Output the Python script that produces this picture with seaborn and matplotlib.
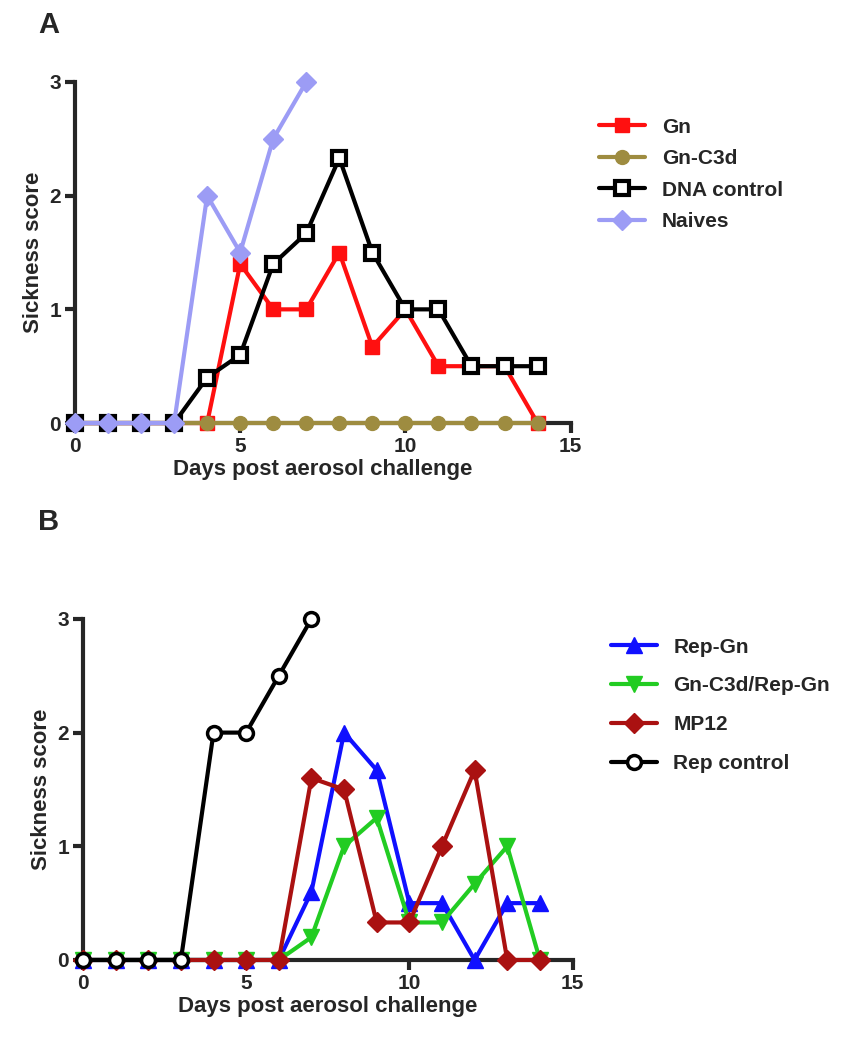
import numpy as np
import pandas as pd
import seaborn as sns
import matplotlib.pyplot as plt

# panel A
days_a = list(range(15))
gn = [0, 0, 0, 0, 0, 1.4, 1, 1, 1.5, 0.67, 1, 0.5, 0.5, 0.5, 0]
gn_c3d = [0] * 15
dna_control = [0, 0, 0, 0, 0.4, 0.6, 1.4, 1.67, 2.33, 1.5, 1, 1, 0.5, 0.5, 0.5]
naives_days = list(range(8))
naives = [0, 0, 0, 0, 2, 1.5, 2.5, 3]

# panel B
days_b = list(range(15))
rep_gn = [0, 0, 0, 0, 0, 0, 0, 0.6, 2.0, 1.67, 0.5, 0.5, 0, 0.5, 0.5]
gn_c3d_rep_gn = [0, 0, 0, 0, 0, 0, 0, 0.2, 1.0, 1.25, 0.33, 0.33, 0.67, 1.0, 0]
mp12 = [0, 0, 0, 0, 0, 0, 0, 1.6, 1.5, 0.33, 0.33, 1.0, 1.67, 0, 0]
rep_control_days = list(range(8))
rep_control = [0, 0, 0, 0, 2, 2, 2.5, 3]

sns.set_style("ticks")
plt.rcParams['font.family'] = ['Liberation Sans', 'DejaVu Sans']
plt.rcParams['font.weight'] = 'bold'

fig = plt.figure(figsize=(8.68, 10.43), dpi=100)
ax_a = fig.add_axes([0.0864, 0.5944, 0.571, 0.327])
ax_b = fig.add_axes([0.0956, 0.0796, 0.564, 0.327])

series_a = [
    ("Gn", days_a, gn, dict(color="#FF1010", marker="s", ms=10, mec="#FF1010")),
    ("Gn-C3d", days_a, gn_c3d, dict(color="#9E8C40", marker="o", ms=10, mec="#9E8C40")),
    ("DNA control", days_a, dna_control, dict(color="black", marker="s", ms=10, mfc="white", mec="black", mew=3)),
    ("Naives", naives_days, naives, dict(color="#9C9CF5", marker="D", ms=10, mec="#9C9CF5")),
]
series_b = [
    ("Rep-Gn", days_b, rep_gn, dict(color="#1010FF", marker="^", ms=11, mec="#1010FF")),
    ("Gn-C3d/Rep-Gn", days_b, gn_c3d_rep_gn, dict(color="#22CC22", marker="v", ms=11, mec="#22CC22")),
    ("MP12", days_b, mp12, dict(color="#AA1111", marker="D", ms=10, mec="#AA1111")),
    ("Rep control", rep_control_days, rep_control, dict(color="black", marker="o", ms=10, mfc="white", mec="black", mew=2.5)),
]

for ax, series in [(ax_a, series_a), (ax_b, series_b)]:
    for name, x, y, kw in series:
        df = pd.DataFrame({"day": x, "score": y})
        sns.lineplot(data=df, x="day", y="score", ax=ax, label=name, lw=3,
                     color=kw["color"], marker=kw["marker"], markersize=kw["ms"],
                     markerfacecolor=kw.get("mfc", kw["color"]), markeredgecolor=kw["mec"],
                     markeredgewidth=kw.get("mew", 1), clip_on=False, zorder=3)
    ax.set_xlim(0, 15)
    ax.set_ylim(0, 3)
    ax.set_xticks([0, 5, 10, 15])
    ax.set_yticks([0, 1, 2, 3])
    ax.tick_params(labelsize=15, width=3, length=7, pad=3, direction="out")
    for lab in ax.get_xticklabels() + ax.get_yticklabels():
        lab.set_fontweight("bold")
    sns.despine(ax=ax)
    for s in ["left", "bottom"]:
        ax.spines[s].set_linewidth(3)
    ax.set_xlabel("Days post aerosol challenge", fontsize=16, fontweight="bold", labelpad=2)
    ax.set_ylabel("Sickness score", fontsize=16, fontweight="bold", labelpad=4)

ax_a.legend(loc="upper left", bbox_to_anchor=(1.02, 0.95), frameon=False,
            prop=dict(size=15, weight="bold"), handlelength=2.2, labelspacing=0.6)
ax_b.legend(loc="upper left", bbox_to_anchor=(1.04, 1.0), frameon=False,
            prop=dict(size=15, weight="bold"), handlelength=2.2, labelspacing=0.95)

fig.text(38 / 868, 1 - 25 / 1043, "A", fontsize=21, fontweight="bold", va="center")
fig.text(38 / 868, 1 - 522 / 1043, "B", fontsize=21, fontweight="bold", va="center")

fig.savefig("out.png", dpi=100)
